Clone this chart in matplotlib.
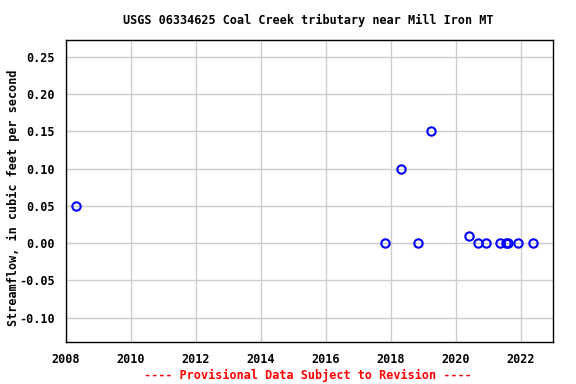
import matplotlib
matplotlib.use("Agg")
import matplotlib.pyplot as plt

# Observation dates (decimal years) and streamflow values (cfs)
dates = [2008.30, 2017.81, 2018.31, 2018.83, 2019.25, 2020.40, 2020.70,
         2020.95, 2021.37, 2021.55, 2021.60, 2021.91, 2022.39]
flows = [0.05, 0.0, 0.10, 0.0, 0.15, 0.01, 0.0,
         0.0, 0.0, 0.0, 0.0, 0.0, 0.0]

x_ticks = [2008, 2010, 2012, 2014, 2016, 2018, 2020, 2022]
y_ticks = [-0.10, -0.05, 0.00, 0.05, 0.10, 0.15, 0.20, 0.25]

title = "USGS 06334625 Coal Creek tributary near Mill Iron MT"
y_label = "Streamflow, in cubic feet per second"
footer = "---- Provisional Data Subject to Revision ----"

font = {"family": "DejaVu Sans Mono", "weight": "bold", "size": 8.5}

fig = plt.figure(figsize=(5.76, 3.84), dpi=100)
ax = fig.add_axes([0.1146, 0.1094, 0.8455, 0.7864])

ax.plot(dates, flows, linestyle="none", marker="o", markersize=6,
        markerfacecolor="none", markeredgecolor="#0000ff", markeredgewidth=1.5,
        zorder=3)

ax.set_xlim(2008, 2023)
ax.set_ylim(-0.1325, 0.2725)
ax.set_xticks(x_ticks)
ax.set_yticks(y_ticks)
ax.set_xticklabels([str(t) for t in x_ticks], fontdict=font)
ax.set_yticklabels([f"{t:.2f}" for t in y_ticks], fontdict=font)
ax.tick_params(length=0, pad=8)
ax.grid(color="#cccccc", linewidth=1.0)
ax.set_axisbelow(True)
for spine in ax.spines.values():
    spine.set_linewidth(1.0)

fig.text(0.023, 0.484, y_label, ha="center", va="center", rotation=90, **font)
fig.text(0.535, 0.948, title, ha="center", va="center", **font)
fig.text(0.535, 0.023, footer, ha="center", va="center", color="red", **font)

fig.savefig("out.png", dpi=100)
